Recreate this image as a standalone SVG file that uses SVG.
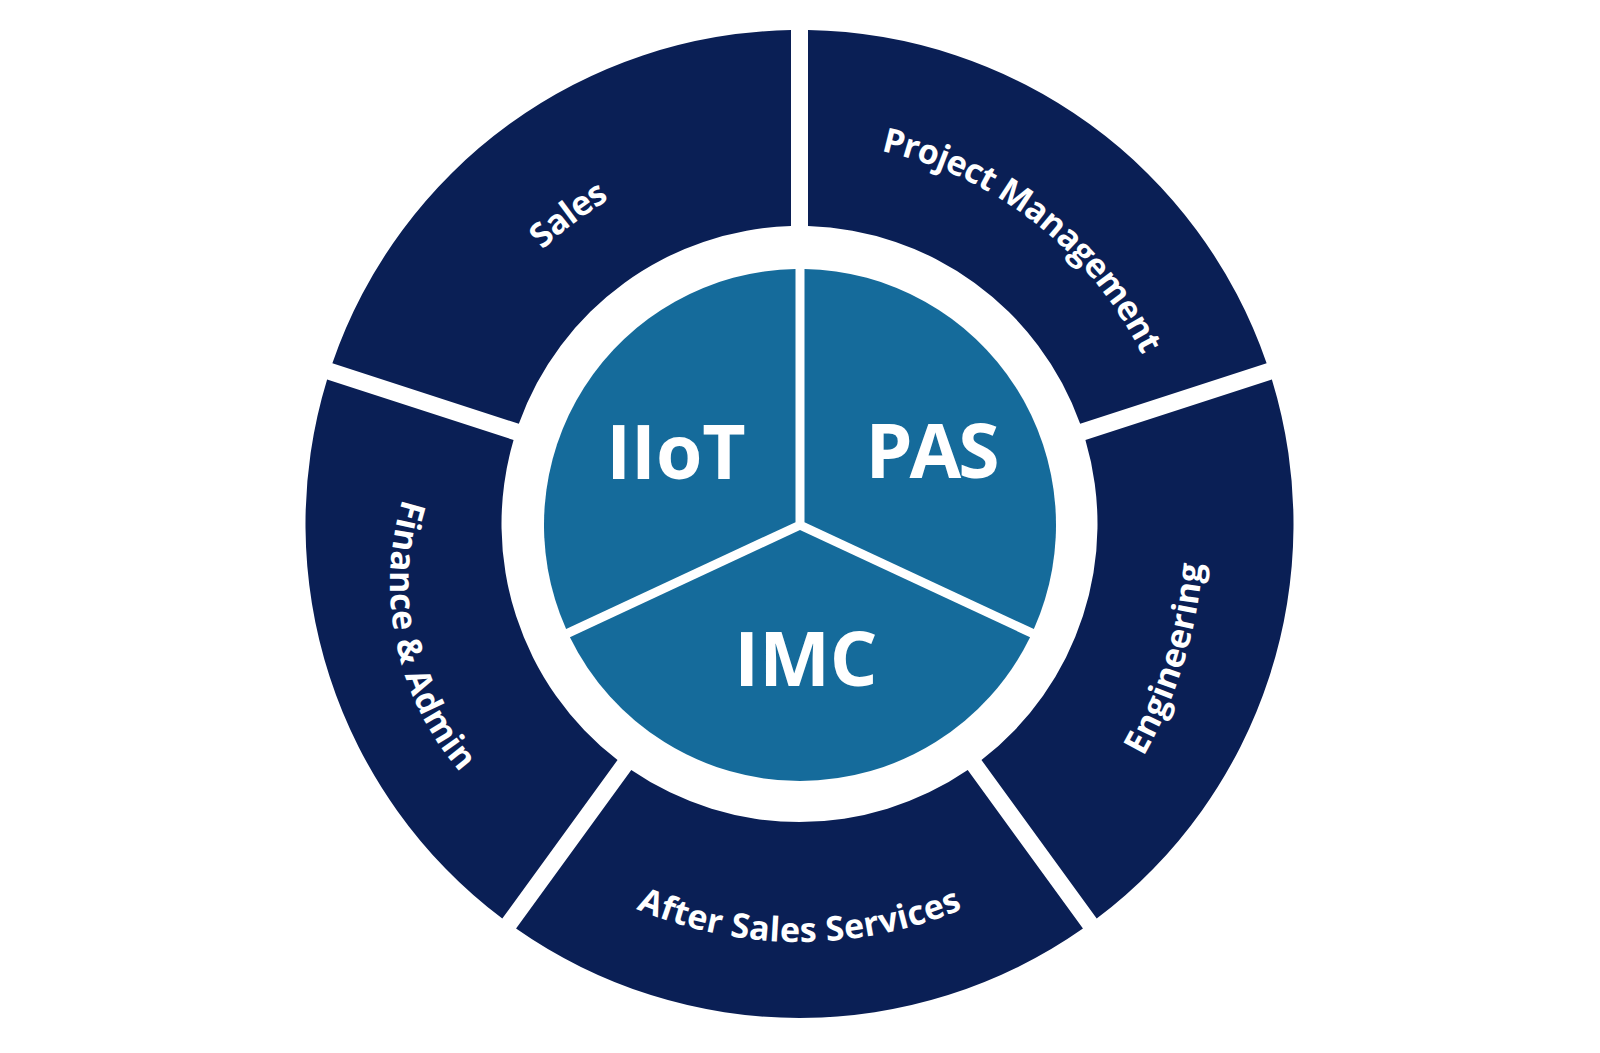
<svg xmlns="http://www.w3.org/2000/svg" xmlns:xlink="http://www.w3.org/1999/xlink" width="1600" height="1053" viewBox="0 0 1600 1053">
  <style>
    .ring { fill: #0a1f55; }
    .pie { fill: #156b9b; }
    .rlabel { font-family: "Open Sans", "Liberation Sans", sans-serif; font-weight: 700; font-size: 34px; fill: #ffffff; text-anchor: middle; }
    .plabel { font-family: "Open Sans", "Liberation Sans", sans-serif; font-weight: 700; font-size: 75px; fill: #ffffff; text-anchor: middle; }
  </style>
  <defs>
    <path id="p-sales" d="M 426.145 568.52 A 376 376 0 0 1 947.622 178.405"/>
    <path id="p-pm" d="M 656.400 169.816 A 382 382 0 0 1 1177.782 577.164"/>
    <path id="p-eng" d="M 846.452 977.985 A 461 461 0 0 0 1079.904 214.399"/>
    <path id="p-after" d="M 437.5 733 A 418 418 0 0 0 1161.5 733"/>
    <path id="p-fin" d="M 482.184 373.249 A 287 287 0 0 0 591.653 858.016"/>
  </defs>
  <rect x="0" y="0" width="1600" height="1053" fill="#ffffff"/>

  <g id="seg-sales">
    <path class="ring" d="M 332.374 363.284 A 494 494 0 0 1 791 30.073 L 791 226.121 A 298 298 0 0 0 518.827 423.866 Z"/>
    <text class="rlabel" letter-spacing="-0.6"><textPath href="#p-sales" xlink:href="#p-sales" startOffset="50%">Sales</textPath></text>
  </g>
  <g id="seg-project-management">
    <path class="ring" d="M 808 30.073 A 494 494 0 0 1 1266.626 363.284 L 1080.173 423.866 A 298 298 0 0 0 808 226.121 Z"/>
    <text class="rlabel" letter-spacing="-0.7"><textPath href="#p-pm" xlink:href="#p-pm" startOffset="50%">Project Management</textPath></text>
  </g>
  <g id="seg-engineering">
    <path class="ring" d="M 1271.880 379.452 A 494 494 0 0 1 1096.700 918.600 L 981.466 759.993 A 298 298 0 0 0 1085.427 440.034 Z"/>
    <text class="rlabel" letter-spacing="0.2"><textPath href="#p-eng" xlink:href="#p-eng" startOffset="50%">Engineering</textPath></text>
  </g>
  <g id="seg-after-sales">
    <path class="ring" d="M 1082.946 928.592 A 494 494 0 0 1 516.054 928.592 L 631.288 769.985 A 298 298 0 0 0 967.712 769.985 Z"/>
    <text class="rlabel" letter-spacing="0.3"><textPath href="#p-after" xlink:href="#p-after" startOffset="50%">After Sales Services</textPath></text>
  </g>
  <g id="seg-finance-admin">
    <path class="ring" d="M 502.300 918.600 A 494 494 0 0 1 327.120 379.452 L 513.573 440.034 A 298 298 0 0 0 617.534 759.993 Z"/>
    <text class="rlabel" letter-spacing="0.4"><textPath href="#p-fin" xlink:href="#p-fin" startOffset="49.3%">Finance &amp; Admin</textPath></text>
  </g>

  <g id="pie-iiot">
    <path class="pie" d="M 795.5 522.133 L 566.119 629.095 A 256 256 0 0 1 795.5 269.040 Z"/>
    <text class="plabel" x="676" y="479">IIoT</text>
  </g>
  <g id="pie-pas">
    <path class="pie" d="M 804.5 522.133 L 804.5 269.040 A 256 256 0 0 1 1033.881 629.095 Z"/>
    <text class="plabel" x="931" y="478" letter-spacing="-3">PAS</text>
  </g>
  <g id="pie-imc">
    <path class="pie" d="M 800 529.965 L 1030.077 637.251 A 256 256 0 0 1 569.923 637.251 Z"/>
    <text class="plabel" x="806" y="686">IMC</text>
  </g>

  <g id="connectors"/>
</svg>
